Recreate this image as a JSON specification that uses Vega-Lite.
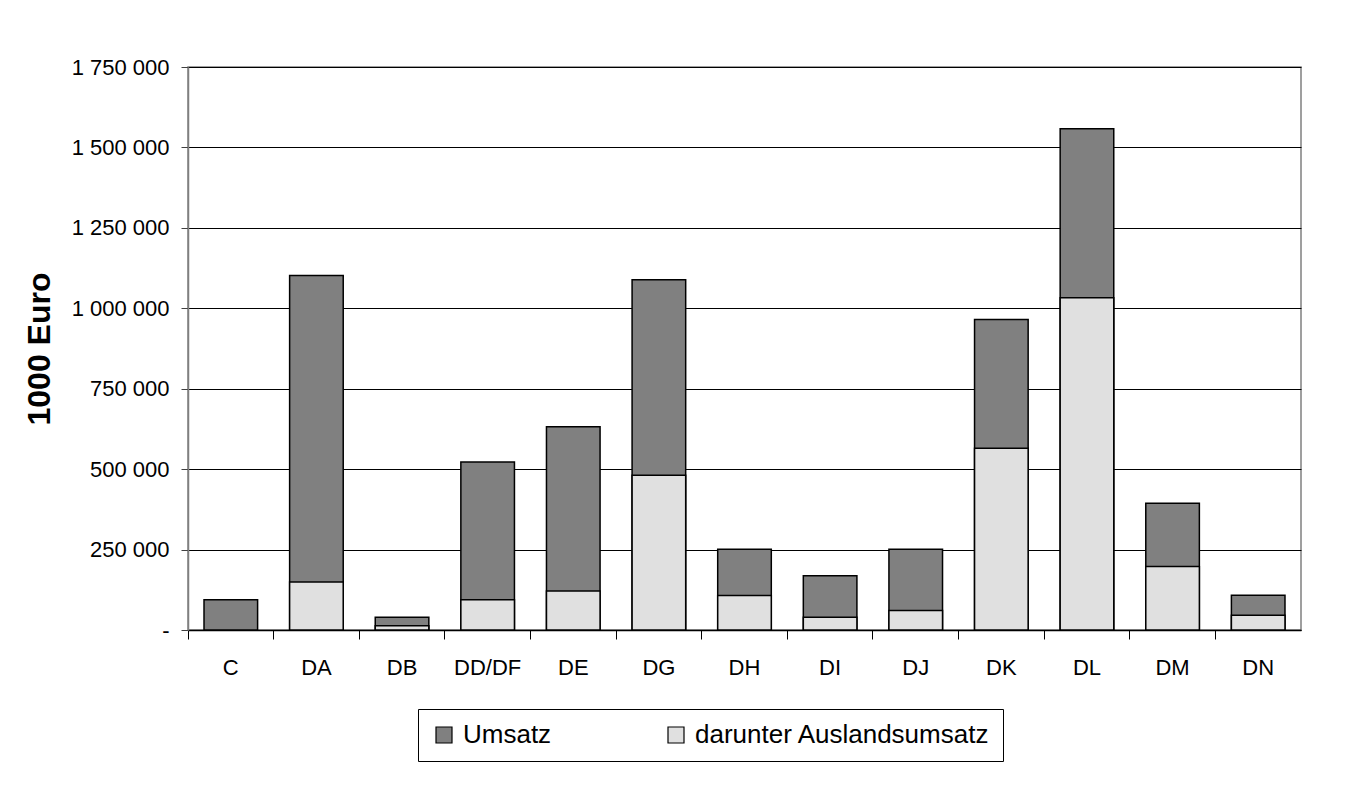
{
  "$schema": "https://vega.github.io/schema/vega-lite/v6.json",
  "width": 1113,
  "height": 563,
  "autosize": {"type": "none"},
  "padding": {"left": 188, "top": 67, "right": 50, "bottom": 177},
  "background": "white",
  "config": {
    "locale": {"number": {"decimal": ",", "thousands": " ", "grouping": [3], "currency": ["", " €"]}},
    "font": "Liberation Sans",
    "view": {"stroke": "#808080", "strokeWidth": 1.5}
  },
  "data": {
    "values": [
      {"Bereich": "C", "Reihe": "Umsatz", "Wert": 94000},
      {"Bereich": "DA", "Reihe": "Umsatz", "Wert": 1102000},
      {"Bereich": "DB", "Reihe": "Umsatz", "Wert": 40000},
      {"Bereich": "DD/DF", "Reihe": "Umsatz", "Wert": 522000},
      {"Bereich": "DE", "Reihe": "Umsatz", "Wert": 632000},
      {"Bereich": "DG", "Reihe": "Umsatz", "Wert": 1089000},
      {"Bereich": "DH", "Reihe": "Umsatz", "Wert": 251000},
      {"Bereich": "DI", "Reihe": "Umsatz", "Wert": 169000},
      {"Bereich": "DJ", "Reihe": "Umsatz", "Wert": 251000},
      {"Bereich": "DK", "Reihe": "Umsatz", "Wert": 965000},
      {"Bereich": "DL", "Reihe": "Umsatz", "Wert": 1558000},
      {"Bereich": "DM", "Reihe": "Umsatz", "Wert": 394000},
      {"Bereich": "DN", "Reihe": "Umsatz", "Wert": 108000},
      {"Bereich": "DA", "Reihe": "darunter Auslandsumsatz", "Wert": 149000},
      {"Bereich": "DB", "Reihe": "darunter Auslandsumsatz", "Wert": 13000},
      {"Bereich": "DD/DF", "Reihe": "darunter Auslandsumsatz", "Wert": 94000},
      {"Bereich": "DE", "Reihe": "darunter Auslandsumsatz", "Wert": 121000},
      {"Bereich": "DG", "Reihe": "darunter Auslandsumsatz", "Wert": 481000},
      {"Bereich": "DH", "Reihe": "darunter Auslandsumsatz", "Wert": 107000},
      {"Bereich": "DI", "Reihe": "darunter Auslandsumsatz", "Wert": 40000},
      {"Bereich": "DJ", "Reihe": "darunter Auslandsumsatz", "Wert": 61000},
      {"Bereich": "DK", "Reihe": "darunter Auslandsumsatz", "Wert": 565000},
      {"Bereich": "DL", "Reihe": "darunter Auslandsumsatz", "Wert": 1033000},
      {"Bereich": "DM", "Reihe": "darunter Auslandsumsatz", "Wert": 197000},
      {"Bereich": "DN", "Reihe": "darunter Auslandsumsatz", "Wert": 46000}
    ]
  },
  "mark": {"type": "bar", "width": {"band": 0.626}, "stroke": "black", "strokeWidth": 1.5},
  "encoding": {
    "x": {
      "field": "Bereich",
      "type": "nominal",
      "sort": ["C", "DA", "DB", "DD/DF", "DE", "DG", "DH", "DI", "DJ", "DK", "DL", "DM", "DN"],
      "scale": {"paddingInner": 0, "paddingOuter": 0},
      "axis": {
        "title": null,
        "labelAngle": 0,
        "labelFontSize": 22,
        "labelColor": "black",
        "bandPosition": 0,
        "tickSize": 9,
        "tickColor": "black",
        "tickWidth": 1,
        "domainColor": "black",
        "domainWidth": 1.5,
        "labelPadding": 18,
        "grid": false
      }
    },
    "y": {
      "field": "Wert",
      "type": "quantitative",
      "stack": null,
      "scale": {"domain": [0, 1750000], "nice": false},
      "axis": {
        "title": "1000 Euro",
        "values": [0, 250000, 500000, 750000, 1000000, 1250000, 1500000, 1750000],
        "format": ",d",
        "labelExpr": "datum.value == 0 ? '-' : datum.label",
        "labelFontSize": 22,
        "labelColor": "black",
        "labelPadding": 12,
        "tickSize": 7,
        "tickColor": "#404040",
        "domainColor": "#808080",
        "domainWidth": 1.5,
        "gridColor": "black",
        "gridWidth": 1,
        "gridOpacity": 1,
        "titleFontSize": 32,
        "titleFontWeight": "bold",
        "titleColor": "black",
        "titlePadding": 15
      }
    },
    "color": {
      "field": "Reihe",
      "type": "nominal",
      "scale": {"domain": ["Umsatz", "darunter Auslandsumsatz"], "range": ["#808080", "#e0e0e0"]},
      "legend": {
        "title": null,
        "orient": "none",
        "legendX": 230,
        "legendY": 642,
        "direction": "horizontal",
        "strokeColor": "black",
        "fillColor": "white",
        "padding": 13,
        "symbolType": "square",
        "symbolSize": 256,
        "symbolStrokeColor": "black",
        "symbolStrokeWidth": 1.2,
        "symbolOpacity": 1,
        "labelFontSize": 26,
        "labelColor": "black",
        "labelOffset": 6,
        "labelLimit": 0,
        "columnPadding": 111
      }
    }
  }
}
